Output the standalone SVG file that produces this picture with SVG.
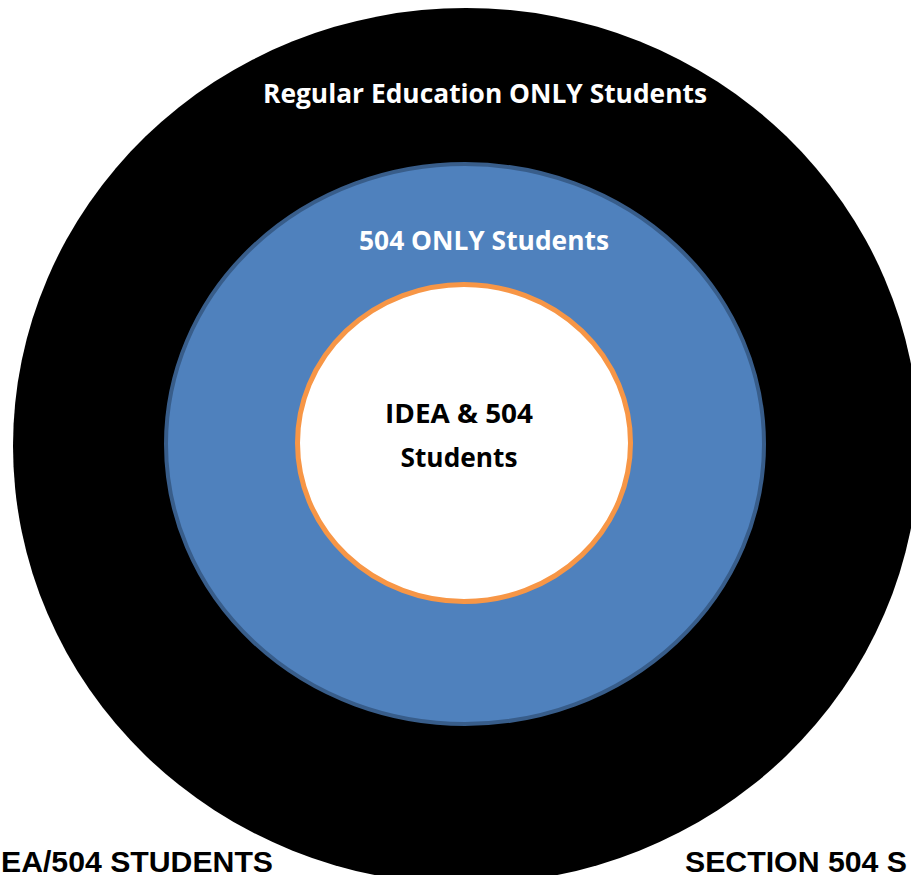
<svg xmlns="http://www.w3.org/2000/svg" width="911" height="875" viewBox="0 0 911 875">
  <style>
    .lbl { font-family: "Open Sans", "Noto Sans", "Liberation Sans", sans-serif; font-weight: bold; font-size: 27px; text-anchor: middle; }
    .white { fill: #ffffff; }
    .dark { fill: #000000; }
    .foot { font-family: "Liberation Sans", Arial, sans-serif; font-weight: bold; font-size: 29px; fill: #000000; }
  </style>
  <rect x="0" y="0" width="911" height="875" fill="#ffffff"/>
  <g id="regular-education">
    <ellipse cx="466" cy="446" rx="453" ry="438" fill="#000000"/>
    <text class="lbl white" x="485" y="103" textLength="444" lengthAdjust="spacingAndGlyphs">Regular Education ONLY Students</text>
  </g>
  <g id="section-504-only">
    <ellipse cx="465" cy="444" rx="299" ry="280" fill="#4f81bd" stroke="#385d8a" stroke-width="4"/>
    <text class="lbl white" x="484" y="250" textLength="250" lengthAdjust="spacingAndGlyphs">504 ONLY Students</text>
  </g>
  <g id="idea-504">
    <ellipse cx="464" cy="443" rx="166.5" ry="158.5" fill="#ffffff" stroke="#f79646" stroke-width="5"/>
    <text class="lbl dark" x="459" y="423" textLength="148" lengthAdjust="spacingAndGlyphs">IDEA &amp; 504</text>
    <text class="lbl dark" x="459" y="467" textLength="117" lengthAdjust="spacingAndGlyphs">Students</text>
  </g>
  <g id="captions">
    <text class="foot" x="1" y="872" textLength="272" lengthAdjust="spacingAndGlyphs">EA/504 STUDENTS</text>
    <text class="foot" x="685" y="872" textLength="222" lengthAdjust="spacingAndGlyphs">SECTION 504 S</text>
  </g>
  <g id="connectors"/>
</svg>
